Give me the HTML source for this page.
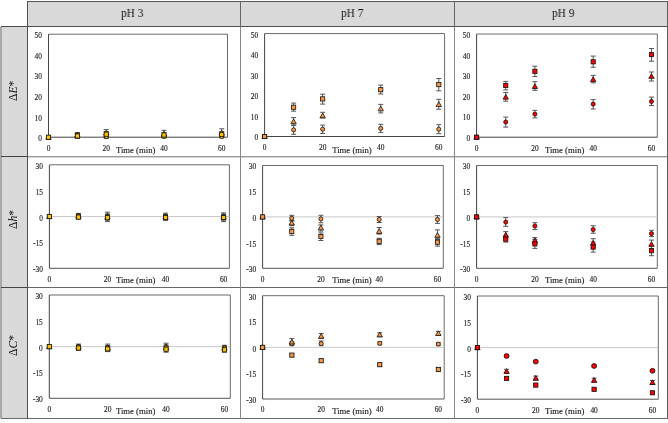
<!DOCTYPE html>
<html><head><meta charset="utf-8"><style>
html,body{margin:0;padding:0;background:#fff;}
body{width:668px;height:423px;position:relative;overflow:hidden;font-family:"Liberation Serif", serif;}
.abs{position:absolute;}
.hdr{background:#d9d9d9;}
.hl{position:absolute;background:#3a3a3a;}
.ph{position:absolute;will-change:transform;font-size:12px;transform:scaleX(0.94);transform-origin:0 0;line-height:1;color:#111;white-space:nowrap;}
.rh{position:absolute;will-change:transform;font-size:11.6px;line-height:1;color:#111;white-space:nowrap;transform:rotate(-90deg);transform-origin:0 0;}
svg text{font-family:"Liberation Serif", serif;fill:#1c1c1c;stroke:#1c1c1c;stroke-width:0.14px;}
.tk{font-size:7.4px;}
.ax{font-size:8.7px;}
</style></head><body>
<div class="abs hdr" style="left:27px;top:1px;width:641px;height:26px;"></div>
<div class="abs hdr" style="left:0px;top:26px;width:28px;height:393px;"></div>
<div class="abs" style="left:0px;top:27px;width:2px;height:391px;background:#a9a9a9;"></div>
<!-- lines -->
<div class="hl" style="left:27px;top:1px;width:641px;height:1px;background:#585858;"></div>
<div class="hl" style="left:1px;top:26px;width:667px;height:1px;background:#4e4e4e;"></div>
<div class="hl" style="left:1px;top:418px;width:667px;height:1px;background:#6a6a6a;"></div>
<div class="hl" style="left:1px;top:156px;width:27px;height:1px;background:#444;"></div>
<div class="hl" style="left:1px;top:287px;width:27px;height:1px;background:#444;"></div>
<div class="hl" style="left:28px;top:156px;width:640px;height:1px;background:#999;"></div>
<div class="hl" style="left:28px;top:157px;width:640px;height:1px;background:#d4d4d4;"></div>
<div class="hl" style="left:28px;top:287px;width:640px;height:1px;background:#666;"></div>
<div class="hl" style="left:27px;top:1px;width:1px;height:418px;background:#505050;"></div>
<div class="hl" style="left:240px;top:1px;width:1px;height:26px;background:#666;"></div>
<div class="hl" style="left:454px;top:1px;width:1px;height:26px;background:#666;"></div>
<div class="hl" style="left:240px;top:27px;width:1px;height:392px;background:#888;"></div>
<div class="hl" style="left:454px;top:27px;width:1px;height:392px;background:#888;"></div>
<div class="hl" style="left:667px;top:1px;width:1px;height:418px;background:#606060;"></div>
<div class="ph" style="left:120.5px;top:7.2px;">pH 3</div>
<div class="ph" style="left:341.2px;top:7.2px;">pH 7</div>
<div class="ph" style="left:551.9px;top:7.2px;">pH 9</div>
<div class="rh" style="left:8.3px;top:101px;">&Delta;<i>E</i>*</div>
<div class="rh" style="left:8.3px;top:228.7px;">&Delta;<i>h</i>*</div>
<div class="rh" style="left:8.3px;top:356px;">&Delta;<i>C</i>*</div>
<svg class="abs" style="left:0;top:0;will-change:transform" width="668" height="423" viewBox="0 0 668 423">
<path d="M48.50,34.20 H227.50 V137.20" stroke="#6b6a65" stroke-width="1" fill="none"/>
<path d="M48.50,34.20 V137.20 H227.50" stroke="#444" stroke-width="1" fill="none"/>
<text x="42.00" y="38.10" text-anchor="end" class="tk">50</text>
<text x="42.00" y="58.70" text-anchor="end" class="tk">40</text>
<text x="42.00" y="79.30" text-anchor="end" class="tk">30</text>
<text x="42.00" y="99.90" text-anchor="end" class="tk">20</text>
<text x="42.00" y="120.50" text-anchor="end" class="tk">10</text>
<text x="42.00" y="141.10" text-anchor="end" class="tk">0</text>
<text x="48.50" y="150.50" text-anchor="middle" class="tk">0</text>
<text x="106.24" y="150.50" text-anchor="middle" class="tk">20</text>
<text x="163.98" y="150.50" text-anchor="middle" class="tk">40</text>
<text x="221.73" y="150.50" text-anchor="middle" class="tk">60</text>
<text x="115.90" y="153.00" class="ax">Time (min)</text>
<path d="M77.37,132.50 V137.50 M74.87,132.50 H79.87 M74.87,137.50 H79.87" stroke="#555" stroke-width="1" fill="none"/>
<path d="M77.37,133.00 V137.00 M74.87,133.00 H79.87 M74.87,137.00 H79.87" stroke="#555" stroke-width="1" fill="none"/>
<path d="M77.37,133.50 V138.50 M74.87,133.50 H79.87 M74.87,138.50 H79.87" stroke="#555" stroke-width="1" fill="none"/>
<path d="M106.24,134.50 V138.50 M103.74,134.50 H108.74 M103.74,138.50 H108.74" stroke="#555" stroke-width="1" fill="none"/>
<path d="M106.24,129.60 V136.50 M103.74,129.60 H108.74 M103.74,136.50 H108.74" stroke="#555" stroke-width="1" fill="none"/>
<path d="M106.24,131.50 V137.00 M103.74,131.50 H108.74 M103.74,137.00 H108.74" stroke="#555" stroke-width="1" fill="none"/>
<path d="M163.98,135.00 V138.00 M161.48,135.00 H166.48 M161.48,138.00 H166.48" stroke="#555" stroke-width="1" fill="none"/>
<path d="M163.98,130.30 V137.50 M161.48,130.30 H166.48 M161.48,137.50 H166.48" stroke="#555" stroke-width="1" fill="none"/>
<path d="M163.98,132.50 V137.50 M161.48,132.50 H166.48 M161.48,137.50 H166.48" stroke="#555" stroke-width="1" fill="none"/>
<path d="M221.73,135.00 V138.00 M219.23,135.00 H224.23 M219.23,138.00 H224.23" stroke="#555" stroke-width="1" fill="none"/>
<path d="M221.73,128.80 V137.00 M219.23,128.80 H224.23 M219.23,137.00 H224.23" stroke="#555" stroke-width="1" fill="none"/>
<path d="M221.73,131.50 V137.50 M219.23,131.50 H224.23 M219.23,137.50 H224.23" stroke="#555" stroke-width="1" fill="none"/>
<circle cx="48.50" cy="137.20" r="2.05" fill="#FFC000" stroke="#111" stroke-width="0.8"/>
<path d="M48.50,134.55 L51.20,139.25 L45.80,139.25 Z" fill="#FFC000" stroke="#111" stroke-width="0.8" stroke-linejoin="miter"/>
<rect x="46.40" y="135.10" width="4.20" height="4.20" fill="#FFC000" stroke="#111" stroke-width="0.8"/>
<circle cx="77.37" cy="135.00" r="2.05" fill="#FFC000" stroke="#111" stroke-width="0.8"/>
<circle cx="106.24" cy="136.50" r="2.05" fill="#FFC000" stroke="#111" stroke-width="0.8"/>
<circle cx="163.98" cy="136.50" r="2.05" fill="#FFC000" stroke="#111" stroke-width="0.8"/>
<circle cx="221.73" cy="136.50" r="2.05" fill="#FFC000" stroke="#111" stroke-width="0.8"/>
<path d="M77.37,132.35 L80.07,137.05 L74.67,137.05 Z" fill="#FFC000" stroke="#111" stroke-width="0.8" stroke-linejoin="miter"/>
<path d="M106.24,130.35 L108.94,135.05 L103.54,135.05 Z" fill="#FFC000" stroke="#111" stroke-width="0.8" stroke-linejoin="miter"/>
<path d="M163.98,131.35 L166.68,136.05 L161.28,136.05 Z" fill="#FFC000" stroke="#111" stroke-width="0.8" stroke-linejoin="miter"/>
<path d="M221.73,130.35 L224.43,135.05 L219.03,135.05 Z" fill="#FFC000" stroke="#111" stroke-width="0.8" stroke-linejoin="miter"/>
<rect x="75.27" y="133.90" width="4.20" height="4.20" fill="#FFC000" stroke="#111" stroke-width="0.8"/>
<rect x="104.14" y="132.10" width="4.20" height="4.20" fill="#FFC000" stroke="#111" stroke-width="0.8"/>
<rect x="161.88" y="132.90" width="4.20" height="4.20" fill="#FFC000" stroke="#111" stroke-width="0.8"/>
<rect x="219.63" y="132.40" width="4.20" height="4.20" fill="#FFC000" stroke="#111" stroke-width="0.8"/>
<path d="M264.60,33.60 H444.60 V136.50" stroke="#6b6a65" stroke-width="1" fill="none"/>
<path d="M264.60,33.60 V136.50 H444.60" stroke="#444" stroke-width="1" fill="none"/>
<text x="258.10" y="37.50" text-anchor="end" class="tk">50</text>
<text x="258.10" y="58.08" text-anchor="end" class="tk">40</text>
<text x="258.10" y="78.66" text-anchor="end" class="tk">30</text>
<text x="258.10" y="99.24" text-anchor="end" class="tk">20</text>
<text x="258.10" y="119.82" text-anchor="end" class="tk">10</text>
<text x="258.10" y="140.40" text-anchor="end" class="tk">0</text>
<text x="264.60" y="149.80" text-anchor="middle" class="tk">0</text>
<text x="322.66" y="149.80" text-anchor="middle" class="tk">20</text>
<text x="380.73" y="149.80" text-anchor="middle" class="tk">40</text>
<text x="438.79" y="149.80" text-anchor="middle" class="tk">60</text>
<text x="332.20" y="153.00" class="ax">Time (min)</text>
<path d="M293.63,103.10 V111.20 M291.13,103.10 H296.13 M291.13,111.20 H296.13" stroke="#555" stroke-width="1" fill="none"/>
<path d="M293.63,117.60 V125.10 M291.13,117.60 H296.13 M291.13,125.10 H296.13" stroke="#555" stroke-width="1" fill="none"/>
<path d="M293.63,125.40 V134.30 M291.13,125.40 H296.13 M291.13,134.30 H296.13" stroke="#555" stroke-width="1" fill="none"/>
<path d="M322.66,94.20 V104.10 M320.16,94.20 H325.16 M320.16,104.10 H325.16" stroke="#555" stroke-width="1" fill="none"/>
<path d="M322.66,112.30 V118.00 M320.16,112.30 H325.16 M320.16,118.00 H325.16" stroke="#555" stroke-width="1" fill="none"/>
<path d="M322.66,125.10 V133.50 M320.16,125.10 H325.16 M320.16,133.50 H325.16" stroke="#555" stroke-width="1" fill="none"/>
<path d="M380.73,85.10 V94.00 M378.23,85.10 H383.23 M378.23,94.00 H383.23" stroke="#555" stroke-width="1" fill="none"/>
<path d="M380.73,104.40 V112.90 M378.23,104.40 H383.23 M378.23,112.90 H383.23" stroke="#555" stroke-width="1" fill="none"/>
<path d="M380.73,124.30 V132.40 M378.23,124.30 H383.23 M378.23,132.40 H383.23" stroke="#555" stroke-width="1" fill="none"/>
<path d="M438.79,78.50 V90.80 M436.29,78.50 H441.29 M436.29,90.80 H441.29" stroke="#555" stroke-width="1" fill="none"/>
<path d="M438.79,99.30 V109.20 M436.29,99.30 H441.29 M436.29,109.20 H441.29" stroke="#555" stroke-width="1" fill="none"/>
<path d="M438.79,124.70 V133.70 M436.29,124.70 H441.29 M436.29,133.70 H441.29" stroke="#555" stroke-width="1" fill="none"/>
<circle cx="264.60" cy="136.50" r="2.05" fill="#F79646" stroke="#111" stroke-width="0.8"/>
<path d="M264.60,133.85 L267.30,138.55 L261.90,138.55 Z" fill="#F79646" stroke="#111" stroke-width="0.8" stroke-linejoin="miter"/>
<rect x="262.50" y="134.40" width="4.20" height="4.20" fill="#F79646" stroke="#111" stroke-width="0.8"/>
<circle cx="293.63" cy="129.90" r="2.05" fill="#F79646" stroke="#111" stroke-width="0.8"/>
<circle cx="322.66" cy="129.20" r="2.05" fill="#F79646" stroke="#111" stroke-width="0.8"/>
<circle cx="380.73" cy="128.40" r="2.05" fill="#F79646" stroke="#111" stroke-width="0.8"/>
<circle cx="438.79" cy="129.20" r="2.05" fill="#F79646" stroke="#111" stroke-width="0.8"/>
<path d="M293.63,118.95 L296.33,123.65 L290.93,123.65 Z" fill="#F79646" stroke="#111" stroke-width="0.8" stroke-linejoin="miter"/>
<path d="M322.66,113.05 L325.36,117.75 L319.96,117.75 Z" fill="#F79646" stroke="#111" stroke-width="0.8" stroke-linejoin="miter"/>
<path d="M380.73,106.15 L383.43,110.85 L378.03,110.85 Z" fill="#F79646" stroke="#111" stroke-width="0.8" stroke-linejoin="miter"/>
<path d="M438.79,101.75 L441.49,106.45 L436.09,106.45 Z" fill="#F79646" stroke="#111" stroke-width="0.8" stroke-linejoin="miter"/>
<rect x="291.53" y="105.10" width="4.20" height="4.20" fill="#F79646" stroke="#111" stroke-width="0.8"/>
<rect x="320.56" y="96.80" width="4.20" height="4.20" fill="#F79646" stroke="#111" stroke-width="0.8"/>
<rect x="378.63" y="87.60" width="4.20" height="4.20" fill="#F79646" stroke="#111" stroke-width="0.8"/>
<rect x="436.69" y="82.50" width="4.20" height="4.20" fill="#F79646" stroke="#111" stroke-width="0.8"/>
<path d="M476.60,34.00 H657.30 V137.20" stroke="#6b6a65" stroke-width="1" fill="none"/>
<path d="M476.60,34.00 V137.20 H657.30" stroke="#444" stroke-width="1" fill="none"/>
<text x="470.10" y="37.90" text-anchor="end" class="tk">50</text>
<text x="470.10" y="58.54" text-anchor="end" class="tk">40</text>
<text x="470.10" y="79.18" text-anchor="end" class="tk">30</text>
<text x="470.10" y="99.82" text-anchor="end" class="tk">20</text>
<text x="470.10" y="120.46" text-anchor="end" class="tk">10</text>
<text x="470.10" y="141.10" text-anchor="end" class="tk">0</text>
<text x="476.60" y="150.50" text-anchor="middle" class="tk">0</text>
<text x="534.89" y="150.50" text-anchor="middle" class="tk">20</text>
<text x="593.18" y="150.50" text-anchor="middle" class="tk">40</text>
<text x="651.47" y="150.50" text-anchor="middle" class="tk">60</text>
<text x="544.90" y="153.00" class="ax">Time (min)</text>
<path d="M505.75,81.40 V89.90 M503.25,81.40 H508.25 M503.25,89.90 H508.25" stroke="#555" stroke-width="1" fill="none"/>
<path d="M505.75,92.50 V101.20 M503.25,92.50 H508.25 M503.25,101.20 H508.25" stroke="#555" stroke-width="1" fill="none"/>
<path d="M505.75,117.10 V127.10 M503.25,117.10 H508.25 M503.25,127.10 H508.25" stroke="#555" stroke-width="1" fill="none"/>
<path d="M534.89,66.20 V76.60 M532.39,66.20 H537.39 M532.39,76.60 H537.39" stroke="#555" stroke-width="1" fill="none"/>
<path d="M534.89,81.70 V90.30 M532.39,81.70 H537.39 M532.39,90.30 H537.39" stroke="#555" stroke-width="1" fill="none"/>
<path d="M534.89,110.30 V117.90 M532.39,110.30 H537.39 M532.39,117.90 H537.39" stroke="#555" stroke-width="1" fill="none"/>
<path d="M593.18,56.10 V67.20 M590.68,56.10 H595.68 M590.68,67.20 H595.68" stroke="#555" stroke-width="1" fill="none"/>
<path d="M593.18,75.40 V82.90 M590.68,75.40 H595.68 M590.68,82.90 H595.68" stroke="#555" stroke-width="1" fill="none"/>
<path d="M593.18,99.60 V109.00 M590.68,99.60 H595.68 M590.68,109.00 H595.68" stroke="#555" stroke-width="1" fill="none"/>
<path d="M651.47,48.50 V61.20 M648.97,48.50 H653.97 M648.97,61.20 H653.97" stroke="#555" stroke-width="1" fill="none"/>
<path d="M651.47,72.00 V81.00 M648.97,72.00 H653.97 M648.97,81.00 H653.97" stroke="#555" stroke-width="1" fill="none"/>
<path d="M651.47,97.10 V105.60 M648.97,97.10 H653.97 M648.97,105.60 H653.97" stroke="#555" stroke-width="1" fill="none"/>
<circle cx="476.60" cy="137.20" r="2.05" fill="#FF0000" stroke="#111" stroke-width="0.8"/>
<path d="M476.60,134.55 L479.30,139.25 L473.90,139.25 Z" fill="#FF0000" stroke="#111" stroke-width="0.8" stroke-linejoin="miter"/>
<rect x="474.50" y="135.10" width="4.20" height="4.20" fill="#FF0000" stroke="#111" stroke-width="0.8"/>
<circle cx="505.75" cy="122.00" r="2.05" fill="#FF0000" stroke="#111" stroke-width="0.8"/>
<circle cx="534.89" cy="114.10" r="2.05" fill="#FF0000" stroke="#111" stroke-width="0.8"/>
<circle cx="593.18" cy="104.10" r="2.05" fill="#FF0000" stroke="#111" stroke-width="0.8"/>
<circle cx="651.47" cy="101.50" r="2.05" fill="#FF0000" stroke="#111" stroke-width="0.8"/>
<path d="M505.75,94.45 L508.45,99.15 L503.05,99.15 Z" fill="#FF0000" stroke="#111" stroke-width="0.8" stroke-linejoin="miter"/>
<path d="M534.89,83.85 L537.59,88.55 L532.19,88.55 Z" fill="#FF0000" stroke="#111" stroke-width="0.8" stroke-linejoin="miter"/>
<path d="M593.18,76.85 L595.88,81.55 L590.48,81.55 Z" fill="#FF0000" stroke="#111" stroke-width="0.8" stroke-linejoin="miter"/>
<path d="M651.47,73.65 L654.17,78.35 L648.77,78.35 Z" fill="#FF0000" stroke="#111" stroke-width="0.8" stroke-linejoin="miter"/>
<rect x="503.65" y="83.40" width="4.20" height="4.20" fill="#FF0000" stroke="#111" stroke-width="0.8"/>
<rect x="532.79" y="69.20" width="4.20" height="4.20" fill="#FF0000" stroke="#111" stroke-width="0.8"/>
<rect x="591.08" y="59.70" width="4.20" height="4.20" fill="#FF0000" stroke="#111" stroke-width="0.8"/>
<rect x="649.37" y="52.50" width="4.20" height="4.20" fill="#FF0000" stroke="#111" stroke-width="0.8"/>
<path d="M49.40,164.80 H229.40 V268.30" stroke="#6b6a65" stroke-width="1" fill="none"/>
<path d="M49.40,216.55 H229.40" stroke="#c8c8c8" stroke-width="1" fill="none"/>
<path d="M49.40,268.30 H229.40" stroke="#555" stroke-width="1" fill="none"/>
<path d="M49.40,164.80 V268.30" stroke="#444" stroke-width="1" fill="none"/>
<text x="42.90" y="168.70" text-anchor="end" class="tk">30</text>
<text x="42.90" y="194.58" text-anchor="end" class="tk">15</text>
<text x="42.90" y="221.05" text-anchor="end" class="tk">0</text>
<text x="42.90" y="246.33" text-anchor="end" class="tk">-15</text>
<text x="42.90" y="272.20" text-anchor="end" class="tk">-30</text>
<text x="49.40" y="281.60" text-anchor="middle" class="tk">0</text>
<text x="107.46" y="281.60" text-anchor="middle" class="tk">20</text>
<text x="165.53" y="281.60" text-anchor="middle" class="tk">40</text>
<text x="223.59" y="281.60" text-anchor="middle" class="tk">60</text>
<text x="115.90" y="282.70" class="ax">Time (min)</text>
<path d="M78.43,213.40 V217.60 M75.93,213.40 H80.93 M75.93,217.60 H80.93" stroke="#555" stroke-width="1" fill="none"/>
<path d="M78.43,214.00 V218.00 M75.93,214.00 H80.93 M75.93,218.00 H80.93" stroke="#555" stroke-width="1" fill="none"/>
<path d="M78.43,215.00 V219.20 M75.93,215.00 H80.93 M75.93,219.20 H80.93" stroke="#555" stroke-width="1" fill="none"/>
<path d="M107.46,212.20 V219.80 M104.96,212.20 H109.96 M104.96,219.80 H109.96" stroke="#555" stroke-width="1" fill="none"/>
<path d="M107.46,214.00 V220.00 M104.96,214.00 H109.96 M104.96,220.00 H109.96" stroke="#555" stroke-width="1" fill="none"/>
<path d="M107.46,214.50 V221.60 M104.96,214.50 H109.96 M104.96,221.60 H109.96" stroke="#555" stroke-width="1" fill="none"/>
<path d="M165.53,213.20 V218.80 M163.03,213.20 H168.03 M163.03,218.80 H168.03" stroke="#555" stroke-width="1" fill="none"/>
<path d="M165.53,214.50 V219.50 M163.03,214.50 H168.03 M163.03,219.50 H168.03" stroke="#555" stroke-width="1" fill="none"/>
<path d="M165.53,215.00 V220.60 M163.03,215.00 H168.03 M163.03,220.60 H168.03" stroke="#555" stroke-width="1" fill="none"/>
<path d="M223.59,212.90 V220.00 M221.09,212.90 H226.09 M221.09,220.00 H226.09" stroke="#555" stroke-width="1" fill="none"/>
<path d="M223.59,214.00 V220.00 M221.09,214.00 H226.09 M221.09,220.00 H226.09" stroke="#555" stroke-width="1" fill="none"/>
<path d="M223.59,214.50 V221.60 M221.09,214.50 H226.09 M221.09,221.60 H226.09" stroke="#555" stroke-width="1" fill="none"/>
<circle cx="49.40" cy="216.55" r="2.05" fill="#FFC000" stroke="#111" stroke-width="0.8"/>
<path d="M49.40,213.90 L52.10,218.60 L46.70,218.60 Z" fill="#FFC000" stroke="#111" stroke-width="0.8" stroke-linejoin="miter"/>
<rect x="47.30" y="214.45" width="4.20" height="4.20" fill="#FFC000" stroke="#111" stroke-width="0.8"/>
<circle cx="78.43" cy="215.50" r="2.05" fill="#FFC000" stroke="#111" stroke-width="0.8"/>
<circle cx="107.46" cy="216.00" r="2.05" fill="#FFC000" stroke="#111" stroke-width="0.8"/>
<circle cx="165.53" cy="216.00" r="2.05" fill="#FFC000" stroke="#111" stroke-width="0.8"/>
<circle cx="223.59" cy="216.50" r="2.05" fill="#FFC000" stroke="#111" stroke-width="0.8"/>
<path d="M78.43,213.35 L81.13,218.05 L75.73,218.05 Z" fill="#FFC000" stroke="#111" stroke-width="0.8" stroke-linejoin="miter"/>
<path d="M107.46,214.35 L110.16,219.05 L104.76,219.05 Z" fill="#FFC000" stroke="#111" stroke-width="0.8" stroke-linejoin="miter"/>
<path d="M165.53,214.35 L168.23,219.05 L162.83,219.05 Z" fill="#FFC000" stroke="#111" stroke-width="0.8" stroke-linejoin="miter"/>
<path d="M223.59,214.35 L226.29,219.05 L220.89,219.05 Z" fill="#FFC000" stroke="#111" stroke-width="0.8" stroke-linejoin="miter"/>
<rect x="76.33" y="215.00" width="4.20" height="4.20" fill="#FFC000" stroke="#111" stroke-width="0.8"/>
<rect x="105.36" y="215.60" width="4.20" height="4.20" fill="#FFC000" stroke="#111" stroke-width="0.8"/>
<rect x="163.43" y="215.40" width="4.20" height="4.20" fill="#FFC000" stroke="#111" stroke-width="0.8"/>
<rect x="221.49" y="215.40" width="4.20" height="4.20" fill="#FFC000" stroke="#111" stroke-width="0.8"/>
<path d="M262.60,165.50 H443.30 V268.30" stroke="#6b6a65" stroke-width="1" fill="none"/>
<path d="M262.60,216.90 H443.30" stroke="#c8c8c8" stroke-width="1" fill="none"/>
<path d="M262.60,268.30 H443.30" stroke="#555" stroke-width="1" fill="none"/>
<path d="M262.60,165.50 V268.30" stroke="#444" stroke-width="1" fill="none"/>
<text x="256.10" y="169.40" text-anchor="end" class="tk">30</text>
<text x="256.10" y="195.10" text-anchor="end" class="tk">15</text>
<text x="256.10" y="221.40" text-anchor="end" class="tk">0</text>
<text x="256.10" y="246.50" text-anchor="end" class="tk">-15</text>
<text x="256.10" y="272.20" text-anchor="end" class="tk">-30</text>
<text x="262.60" y="281.60" text-anchor="middle" class="tk">0</text>
<text x="320.89" y="281.60" text-anchor="middle" class="tk">20</text>
<text x="379.18" y="281.60" text-anchor="middle" class="tk">40</text>
<text x="437.47" y="281.60" text-anchor="middle" class="tk">60</text>
<text x="332.20" y="282.70" class="ax">Time (min)</text>
<path d="M291.75,215.30 V221.00 M289.25,215.30 H294.25 M289.25,221.00 H294.25" stroke="#555" stroke-width="1" fill="none"/>
<path d="M291.75,220.50 V225.70 M289.25,220.50 H294.25 M289.25,225.70 H294.25" stroke="#555" stroke-width="1" fill="none"/>
<path d="M291.75,227.80 V235.30 M289.25,227.80 H294.25 M289.25,235.30 H294.25" stroke="#555" stroke-width="1" fill="none"/>
<path d="M320.89,215.30 V222.80 M318.39,215.30 H323.39 M318.39,222.80 H323.39" stroke="#555" stroke-width="1" fill="none"/>
<path d="M320.89,224.90 V231.10 M318.39,224.90 H323.39 M318.39,231.10 H323.39" stroke="#555" stroke-width="1" fill="none"/>
<path d="M320.89,232.90 V240.50 M318.39,232.90 H323.39 M318.39,240.50 H323.39" stroke="#555" stroke-width="1" fill="none"/>
<path d="M379.18,216.50 V222.50 M376.68,216.50 H381.68 M376.68,222.50 H381.68" stroke="#555" stroke-width="1" fill="none"/>
<path d="M379.18,227.50 V234.10 M376.68,227.50 H381.68 M376.68,234.10 H381.68" stroke="#555" stroke-width="1" fill="none"/>
<path d="M379.18,238.30 V244.60 M376.68,238.30 H381.68 M376.68,244.60 H381.68" stroke="#555" stroke-width="1" fill="none"/>
<path d="M437.47,215.60 V223.40 M434.97,215.60 H439.97 M434.97,223.40 H439.97" stroke="#555" stroke-width="1" fill="none"/>
<path d="M437.47,229.90 V238.30 M434.97,229.90 H439.97 M434.97,238.30 H439.97" stroke="#555" stroke-width="1" fill="none"/>
<path d="M437.47,239.50 V246.10 M434.97,239.50 H439.97 M434.97,246.10 H439.97" stroke="#555" stroke-width="1" fill="none"/>
<circle cx="262.60" cy="216.90" r="2.05" fill="#F79646" stroke="#111" stroke-width="0.8"/>
<path d="M262.60,214.25 L265.30,218.95 L259.90,218.95 Z" fill="#F79646" stroke="#111" stroke-width="0.8" stroke-linejoin="miter"/>
<rect x="260.50" y="214.80" width="4.20" height="4.20" fill="#F79646" stroke="#111" stroke-width="0.8"/>
<circle cx="291.75" cy="218.20" r="2.05" fill="#F79646" stroke="#111" stroke-width="0.8"/>
<circle cx="320.89" cy="218.90" r="2.05" fill="#F79646" stroke="#111" stroke-width="0.8"/>
<circle cx="379.18" cy="219.50" r="2.05" fill="#F79646" stroke="#111" stroke-width="0.8"/>
<circle cx="437.47" cy="219.50" r="2.05" fill="#F79646" stroke="#111" stroke-width="0.8"/>
<path d="M291.75,220.35 L294.45,225.05 L289.05,225.05 Z" fill="#F79646" stroke="#111" stroke-width="0.8" stroke-linejoin="miter"/>
<path d="M320.89,225.15 L323.59,229.85 L318.19,229.85 Z" fill="#F79646" stroke="#111" stroke-width="0.8" stroke-linejoin="miter"/>
<path d="M379.18,228.75 L381.88,233.45 L376.48,233.45 Z" fill="#F79646" stroke="#111" stroke-width="0.8" stroke-linejoin="miter"/>
<path d="M437.47,232.65 L440.17,237.35 L434.77,237.35 Z" fill="#F79646" stroke="#111" stroke-width="0.8" stroke-linejoin="miter"/>
<rect x="289.65" y="229.30" width="4.20" height="4.20" fill="#F79646" stroke="#111" stroke-width="0.8"/>
<rect x="318.79" y="234.40" width="4.20" height="4.20" fill="#F79646" stroke="#111" stroke-width="0.8"/>
<rect x="377.08" y="239.20" width="4.20" height="4.20" fill="#F79646" stroke="#111" stroke-width="0.8"/>
<rect x="435.37" y="240.10" width="4.20" height="4.20" fill="#F79646" stroke="#111" stroke-width="0.8"/>
<path d="M476.60,165.50 H657.30 V268.30" stroke="#6b6a65" stroke-width="1" fill="none"/>
<path d="M476.60,216.90 H657.30" stroke="#c8c8c8" stroke-width="1" fill="none"/>
<path d="M476.60,268.30 H657.30" stroke="#555" stroke-width="1" fill="none"/>
<path d="M476.60,165.50 V268.30" stroke="#444" stroke-width="1" fill="none"/>
<text x="470.10" y="169.40" text-anchor="end" class="tk">30</text>
<text x="470.10" y="195.10" text-anchor="end" class="tk">15</text>
<text x="470.10" y="221.40" text-anchor="end" class="tk">0</text>
<text x="470.10" y="246.50" text-anchor="end" class="tk">-15</text>
<text x="470.10" y="272.20" text-anchor="end" class="tk">-30</text>
<text x="476.60" y="281.60" text-anchor="middle" class="tk">0</text>
<text x="534.89" y="281.60" text-anchor="middle" class="tk">20</text>
<text x="593.18" y="281.60" text-anchor="middle" class="tk">40</text>
<text x="651.47" y="281.60" text-anchor="middle" class="tk">60</text>
<text x="544.90" y="282.70" class="ax">Time (min)</text>
<path d="M505.75,217.60 V226.30 M503.25,217.60 H508.25 M503.25,226.30 H508.25" stroke="#555" stroke-width="1" fill="none"/>
<path d="M505.75,231.60 V238.40 M503.25,231.60 H508.25 M503.25,238.40 H508.25" stroke="#555" stroke-width="1" fill="none"/>
<path d="M505.75,236.10 V242.10 M503.25,236.10 H508.25 M503.25,242.10 H508.25" stroke="#555" stroke-width="1" fill="none"/>
<path d="M534.89,222.70 V229.60 M532.39,222.70 H537.39 M532.39,229.60 H537.39" stroke="#555" stroke-width="1" fill="none"/>
<path d="M534.89,237.60 V243.40 M532.39,237.60 H537.39 M532.39,243.40 H537.39" stroke="#555" stroke-width="1" fill="none"/>
<path d="M534.89,239.40 V248.40 M532.39,239.40 H537.39 M532.39,248.40 H537.39" stroke="#555" stroke-width="1" fill="none"/>
<path d="M593.18,225.80 V233.20 M590.68,225.80 H595.68 M590.68,233.20 H595.68" stroke="#555" stroke-width="1" fill="none"/>
<path d="M593.18,238.70 V247.50 M590.68,238.70 H595.68 M590.68,247.50 H595.68" stroke="#555" stroke-width="1" fill="none"/>
<path d="M593.18,242.10 V252.10 M590.68,242.10 H595.68 M590.68,252.10 H595.68" stroke="#555" stroke-width="1" fill="none"/>
<path d="M651.47,230.30 V236.60 M648.97,230.30 H653.97 M648.97,236.60 H653.97" stroke="#555" stroke-width="1" fill="none"/>
<path d="M651.47,240.10 V248.50 M648.97,240.10 H653.97 M648.97,248.50 H653.97" stroke="#555" stroke-width="1" fill="none"/>
<path d="M651.47,245.70 V255.70 M648.97,245.70 H653.97 M648.97,255.70 H653.97" stroke="#555" stroke-width="1" fill="none"/>
<circle cx="476.60" cy="216.90" r="2.05" fill="#FF0000" stroke="#111" stroke-width="0.8"/>
<path d="M476.60,214.25 L479.30,218.95 L473.90,218.95 Z" fill="#FF0000" stroke="#111" stroke-width="0.8" stroke-linejoin="miter"/>
<rect x="474.50" y="214.80" width="4.20" height="4.20" fill="#FF0000" stroke="#111" stroke-width="0.8"/>
<circle cx="505.75" cy="222.10" r="2.05" fill="#FF0000" stroke="#111" stroke-width="0.8"/>
<circle cx="534.89" cy="226.00" r="2.05" fill="#FF0000" stroke="#111" stroke-width="0.8"/>
<circle cx="593.18" cy="229.60" r="2.05" fill="#FF0000" stroke="#111" stroke-width="0.8"/>
<circle cx="651.47" cy="233.60" r="2.05" fill="#FF0000" stroke="#111" stroke-width="0.8"/>
<path d="M505.75,232.35 L508.45,237.05 L503.05,237.05 Z" fill="#FF0000" stroke="#111" stroke-width="0.8" stroke-linejoin="miter"/>
<path d="M534.89,237.85 L537.59,242.55 L532.19,242.55 Z" fill="#FF0000" stroke="#111" stroke-width="0.8" stroke-linejoin="miter"/>
<path d="M593.18,240.45 L595.88,245.15 L590.48,245.15 Z" fill="#FF0000" stroke="#111" stroke-width="0.8" stroke-linejoin="miter"/>
<path d="M651.47,241.65 L654.17,246.35 L648.77,246.35 Z" fill="#FF0000" stroke="#111" stroke-width="0.8" stroke-linejoin="miter"/>
<rect x="503.65" y="237.00" width="4.20" height="4.20" fill="#FF0000" stroke="#111" stroke-width="0.8"/>
<rect x="532.79" y="241.80" width="4.20" height="4.20" fill="#FF0000" stroke="#111" stroke-width="0.8"/>
<rect x="591.08" y="245.00" width="4.20" height="4.20" fill="#FF0000" stroke="#111" stroke-width="0.8"/>
<rect x="649.37" y="248.60" width="4.20" height="4.20" fill="#FF0000" stroke="#111" stroke-width="0.8"/>
<path d="M49.30,295.00 H230.30 V398.30" stroke="#6b6a65" stroke-width="1" fill="none"/>
<path d="M49.30,346.65 H230.30" stroke="#c8c8c8" stroke-width="1" fill="none"/>
<path d="M49.30,398.30 H230.30" stroke="#555" stroke-width="1" fill="none"/>
<path d="M49.30,295.00 V398.30" stroke="#444" stroke-width="1" fill="none"/>
<text x="42.80" y="298.90" text-anchor="end" class="tk">30</text>
<text x="42.80" y="324.72" text-anchor="end" class="tk">15</text>
<text x="42.80" y="351.15" text-anchor="end" class="tk">0</text>
<text x="42.80" y="376.38" text-anchor="end" class="tk">-15</text>
<text x="42.80" y="402.20" text-anchor="end" class="tk">-30</text>
<text x="49.30" y="411.60" text-anchor="middle" class="tk">0</text>
<text x="107.69" y="411.60" text-anchor="middle" class="tk">20</text>
<text x="166.07" y="411.60" text-anchor="middle" class="tk">40</text>
<text x="224.46" y="411.60" text-anchor="middle" class="tk">60</text>
<text x="115.90" y="413.70" class="ax">Time (min)</text>
<path d="M78.49,344.10 V348.90 M75.99,344.10 H80.99 M75.99,348.90 H80.99" stroke="#555" stroke-width="1" fill="none"/>
<path d="M78.49,345.00 V349.00 M75.99,345.00 H80.99 M75.99,349.00 H80.99" stroke="#555" stroke-width="1" fill="none"/>
<path d="M78.49,345.60 V350.40 M75.99,345.60 H80.99 M75.99,350.40 H80.99" stroke="#555" stroke-width="1" fill="none"/>
<path d="M107.69,344.10 V350.90 M105.19,344.10 H110.19 M105.19,350.90 H110.19" stroke="#555" stroke-width="1" fill="none"/>
<path d="M107.69,345.50 V350.50 M105.19,345.50 H110.19 M105.19,350.50 H110.19" stroke="#555" stroke-width="1" fill="none"/>
<path d="M107.69,346.50 V351.60 M105.19,346.50 H110.19 M105.19,351.60 H110.19" stroke="#555" stroke-width="1" fill="none"/>
<path d="M166.07,343.20 V349.80 M163.57,343.20 H168.57 M163.57,349.80 H168.57" stroke="#555" stroke-width="1" fill="none"/>
<path d="M166.07,345.00 V350.00 M163.57,345.00 H168.57 M163.57,350.00 H168.57" stroke="#555" stroke-width="1" fill="none"/>
<path d="M166.07,346.50 V352.20 M163.57,346.50 H168.57 M163.57,352.20 H168.57" stroke="#555" stroke-width="1" fill="none"/>
<path d="M224.46,345.30 V349.70 M221.96,345.30 H226.96 M221.96,349.70 H226.96" stroke="#555" stroke-width="1" fill="none"/>
<path d="M224.46,345.80 V350.20 M221.96,345.80 H226.96 M221.96,350.20 H226.96" stroke="#555" stroke-width="1" fill="none"/>
<path d="M224.46,347.50 V352.20 M221.96,347.50 H226.96 M221.96,352.20 H226.96" stroke="#555" stroke-width="1" fill="none"/>
<circle cx="49.30" cy="346.65" r="2.05" fill="#FFC000" stroke="#111" stroke-width="0.8"/>
<path d="M49.30,344.00 L52.00,348.70 L46.60,348.70 Z" fill="#FFC000" stroke="#111" stroke-width="0.8" stroke-linejoin="miter"/>
<rect x="47.20" y="344.55" width="4.20" height="4.20" fill="#FFC000" stroke="#111" stroke-width="0.8"/>
<circle cx="78.49" cy="346.50" r="2.05" fill="#FFC000" stroke="#111" stroke-width="0.8"/>
<circle cx="107.69" cy="347.50" r="2.05" fill="#FFC000" stroke="#111" stroke-width="0.8"/>
<circle cx="166.07" cy="346.50" r="2.05" fill="#FFC000" stroke="#111" stroke-width="0.8"/>
<circle cx="224.46" cy="347.50" r="2.05" fill="#FFC000" stroke="#111" stroke-width="0.8"/>
<path d="M78.49,344.35 L81.19,349.05 L75.79,349.05 Z" fill="#FFC000" stroke="#111" stroke-width="0.8" stroke-linejoin="miter"/>
<path d="M107.69,345.35 L110.39,350.05 L104.99,350.05 Z" fill="#FFC000" stroke="#111" stroke-width="0.8" stroke-linejoin="miter"/>
<path d="M166.07,344.85 L168.77,349.55 L163.37,349.55 Z" fill="#FFC000" stroke="#111" stroke-width="0.8" stroke-linejoin="miter"/>
<path d="M224.46,345.35 L227.16,350.05 L221.76,350.05 Z" fill="#FFC000" stroke="#111" stroke-width="0.8" stroke-linejoin="miter"/>
<rect x="76.39" y="345.90" width="4.20" height="4.20" fill="#FFC000" stroke="#111" stroke-width="0.8"/>
<rect x="105.59" y="346.80" width="4.20" height="4.20" fill="#FFC000" stroke="#111" stroke-width="0.8"/>
<rect x="163.97" y="347.10" width="4.20" height="4.20" fill="#FFC000" stroke="#111" stroke-width="0.8"/>
<rect x="222.36" y="347.70" width="4.20" height="4.20" fill="#FFC000" stroke="#111" stroke-width="0.8"/>
<path d="M262.60,295.70 H444.20 V399.00" stroke="#6b6a65" stroke-width="1" fill="none"/>
<path d="M262.60,347.35 H444.20" stroke="#c8c8c8" stroke-width="1" fill="none"/>
<path d="M262.60,399.00 H444.20" stroke="#555" stroke-width="1" fill="none"/>
<path d="M262.60,295.70 V399.00" stroke="#444" stroke-width="1" fill="none"/>
<text x="256.10" y="299.60" text-anchor="end" class="tk">30</text>
<text x="256.10" y="325.42" text-anchor="end" class="tk">15</text>
<text x="256.10" y="351.85" text-anchor="end" class="tk">0</text>
<text x="256.10" y="377.07" text-anchor="end" class="tk">-15</text>
<text x="256.10" y="402.90" text-anchor="end" class="tk">-30</text>
<text x="262.60" y="412.30" text-anchor="middle" class="tk">0</text>
<text x="321.18" y="412.30" text-anchor="middle" class="tk">20</text>
<text x="379.76" y="412.30" text-anchor="middle" class="tk">40</text>
<text x="438.34" y="412.30" text-anchor="middle" class="tk">60</text>
<text x="332.20" y="413.70" class="ax">Time (min)</text>
<path d="M291.89,341.70 V345.70 M289.39,341.70 H294.39 M289.39,345.70 H294.39" stroke="#555" stroke-width="1" fill="none"/>
<path d="M291.89,338.60 V344.60 M289.39,338.60 H294.39 M289.39,344.60 H294.39" stroke="#555" stroke-width="1" fill="none"/>
<path d="M291.89,353.50 V356.70 M289.39,353.50 H294.39 M289.39,356.70 H294.39" stroke="#555" stroke-width="1" fill="none"/>
<path d="M321.18,341.00 V345.70 M318.68,341.00 H323.68 M318.68,345.70 H323.68" stroke="#555" stroke-width="1" fill="none"/>
<path d="M321.18,333.40 V338.60 M318.68,333.40 H323.68 M318.68,338.60 H323.68" stroke="#555" stroke-width="1" fill="none"/>
<path d="M321.18,359.20 V362.20 M318.68,359.20 H323.68 M318.68,362.20 H323.68" stroke="#555" stroke-width="1" fill="none"/>
<path d="M379.76,341.80 V344.80 M377.26,341.80 H382.26 M377.26,344.80 H382.26" stroke="#555" stroke-width="1" fill="none"/>
<path d="M379.76,332.80 V336.80 M377.26,332.80 H382.26 M377.26,336.80 H382.26" stroke="#555" stroke-width="1" fill="none"/>
<path d="M379.76,363.20 V366.20 M377.26,363.20 H382.26 M377.26,366.20 H382.26" stroke="#555" stroke-width="1" fill="none"/>
<path d="M438.34,342.60 V345.60 M435.84,342.60 H440.84 M435.84,345.60 H440.84" stroke="#555" stroke-width="1" fill="none"/>
<path d="M438.34,331.40 V335.40 M435.84,331.40 H440.84 M435.84,335.40 H440.84" stroke="#555" stroke-width="1" fill="none"/>
<path d="M438.34,367.60 V371.20 M435.84,367.60 H440.84 M435.84,371.20 H440.84" stroke="#555" stroke-width="1" fill="none"/>
<circle cx="262.60" cy="347.35" r="2.05" fill="#F79646" stroke="#111" stroke-width="0.8"/>
<path d="M262.60,344.70 L265.30,349.40 L259.90,349.40 Z" fill="#F79646" stroke="#111" stroke-width="0.8" stroke-linejoin="miter"/>
<rect x="260.50" y="345.25" width="4.20" height="4.20" fill="#F79646" stroke="#111" stroke-width="0.8"/>
<circle cx="291.89" cy="343.70" r="2.05" fill="#F79646" stroke="#111" stroke-width="0.8"/>
<circle cx="321.18" cy="343.60" r="2.05" fill="#F79646" stroke="#111" stroke-width="0.8"/>
<circle cx="379.76" cy="343.30" r="2.05" fill="#F79646" stroke="#111" stroke-width="0.8"/>
<circle cx="438.34" cy="344.10" r="2.05" fill="#F79646" stroke="#111" stroke-width="0.8"/>
<path d="M291.89,339.25 L294.59,343.95 L289.19,343.95 Z" fill="#F79646" stroke="#111" stroke-width="0.8" stroke-linejoin="miter"/>
<path d="M321.18,333.55 L323.88,338.25 L318.48,338.25 Z" fill="#F79646" stroke="#111" stroke-width="0.8" stroke-linejoin="miter"/>
<path d="M379.76,332.15 L382.46,336.85 L377.06,336.85 Z" fill="#F79646" stroke="#111" stroke-width="0.8" stroke-linejoin="miter"/>
<path d="M438.34,330.75 L441.04,335.45 L435.64,335.45 Z" fill="#F79646" stroke="#111" stroke-width="0.8" stroke-linejoin="miter"/>
<rect x="289.79" y="353.00" width="4.20" height="4.20" fill="#F79646" stroke="#111" stroke-width="0.8"/>
<rect x="319.08" y="358.60" width="4.20" height="4.20" fill="#F79646" stroke="#111" stroke-width="0.8"/>
<rect x="377.66" y="362.60" width="4.20" height="4.20" fill="#F79646" stroke="#111" stroke-width="0.8"/>
<rect x="436.24" y="367.30" width="4.20" height="4.20" fill="#F79646" stroke="#111" stroke-width="0.8"/>
<path d="M477.40,296.00 H658.30 V399.20" stroke="#6b6a65" stroke-width="1" fill="none"/>
<path d="M477.40,347.60 H658.30" stroke="#c8c8c8" stroke-width="1" fill="none"/>
<path d="M477.40,399.20 H658.30" stroke="#555" stroke-width="1" fill="none"/>
<path d="M477.40,296.00 V399.20" stroke="#444" stroke-width="1" fill="none"/>
<text x="470.90" y="299.90" text-anchor="end" class="tk">30</text>
<text x="470.90" y="325.70" text-anchor="end" class="tk">15</text>
<text x="470.90" y="352.10" text-anchor="end" class="tk">0</text>
<text x="470.90" y="377.30" text-anchor="end" class="tk">-15</text>
<text x="470.90" y="403.10" text-anchor="end" class="tk">-30</text>
<text x="477.40" y="412.50" text-anchor="middle" class="tk">0</text>
<text x="535.75" y="412.50" text-anchor="middle" class="tk">20</text>
<text x="594.11" y="412.50" text-anchor="middle" class="tk">40</text>
<text x="652.46" y="412.50" text-anchor="middle" class="tk">60</text>
<text x="544.90" y="413.70" class="ax">Time (min)</text>
<path d="M506.58,355.00 V357.00 M504.08,355.00 H509.08 M504.08,357.00 H509.08" stroke="#555" stroke-width="1" fill="none"/>
<path d="M506.58,369.30 V373.30 M504.08,369.30 H509.08 M504.08,373.30 H509.08" stroke="#555" stroke-width="1" fill="none"/>
<path d="M506.58,377.40 V379.40 M504.08,377.40 H509.08 M504.08,379.40 H509.08" stroke="#555" stroke-width="1" fill="none"/>
<path d="M535.75,360.60 V362.60 M533.25,360.60 H538.25 M533.25,362.60 H538.25" stroke="#555" stroke-width="1" fill="none"/>
<path d="M535.75,376.10 V380.10 M533.25,376.10 H538.25 M533.25,380.10 H538.25" stroke="#555" stroke-width="1" fill="none"/>
<path d="M535.75,384.10 V386.10 M533.25,384.10 H538.25 M533.25,386.10 H538.25" stroke="#555" stroke-width="1" fill="none"/>
<path d="M594.11,365.00 V367.00 M591.61,365.00 H596.61 M591.61,367.00 H596.61" stroke="#555" stroke-width="1" fill="none"/>
<path d="M594.11,378.20 V382.20 M591.61,378.20 H596.61 M591.61,382.20 H596.61" stroke="#555" stroke-width="1" fill="none"/>
<path d="M594.11,388.30 V390.30 M591.61,388.30 H596.61 M591.61,390.30 H596.61" stroke="#555" stroke-width="1" fill="none"/>
<path d="M652.46,369.80 V371.80 M649.96,369.80 H654.96 M649.96,371.80 H654.96" stroke="#555" stroke-width="1" fill="none"/>
<path d="M652.46,380.50 V384.50 M649.96,380.50 H654.96 M649.96,384.50 H654.96" stroke="#555" stroke-width="1" fill="none"/>
<path d="M652.46,391.80 V393.80 M649.96,391.80 H654.96 M649.96,393.80 H654.96" stroke="#555" stroke-width="1" fill="none"/>
<circle cx="477.40" cy="347.60" r="2.05" fill="#FF0000" stroke="#111" stroke-width="0.8"/>
<path d="M477.40,344.95 L480.10,349.65 L474.70,349.65 Z" fill="#FF0000" stroke="#111" stroke-width="0.8" stroke-linejoin="miter"/>
<rect x="475.30" y="345.50" width="4.20" height="4.20" fill="#FF0000" stroke="#111" stroke-width="0.8"/>
<circle cx="506.58" cy="356.00" r="2.45" fill="#FF0000" stroke="#111" stroke-width="0.8"/>
<circle cx="535.75" cy="361.60" r="2.45" fill="#FF0000" stroke="#111" stroke-width="0.8"/>
<circle cx="594.11" cy="366.00" r="2.45" fill="#FF0000" stroke="#111" stroke-width="0.8"/>
<circle cx="652.46" cy="370.80" r="2.45" fill="#FF0000" stroke="#111" stroke-width="0.8"/>
<path d="M506.58,368.65 L509.28,373.35 L503.88,373.35 Z" fill="#FF0000" stroke="#111" stroke-width="0.8" stroke-linejoin="miter"/>
<path d="M535.75,375.45 L538.45,380.15 L533.05,380.15 Z" fill="#FF0000" stroke="#111" stroke-width="0.8" stroke-linejoin="miter"/>
<path d="M594.11,377.55 L596.81,382.25 L591.41,382.25 Z" fill="#FF0000" stroke="#111" stroke-width="0.8" stroke-linejoin="miter"/>
<path d="M652.46,379.85 L655.16,384.55 L649.76,384.55 Z" fill="#FF0000" stroke="#111" stroke-width="0.8" stroke-linejoin="miter"/>
<rect x="504.48" y="376.30" width="4.20" height="4.20" fill="#FF0000" stroke="#111" stroke-width="0.8"/>
<rect x="533.65" y="383.00" width="4.20" height="4.20" fill="#FF0000" stroke="#111" stroke-width="0.8"/>
<rect x="592.01" y="387.20" width="4.20" height="4.20" fill="#FF0000" stroke="#111" stroke-width="0.8"/>
<rect x="650.36" y="390.70" width="4.20" height="4.20" fill="#FF0000" stroke="#111" stroke-width="0.8"/>
</svg>
</body></html>
